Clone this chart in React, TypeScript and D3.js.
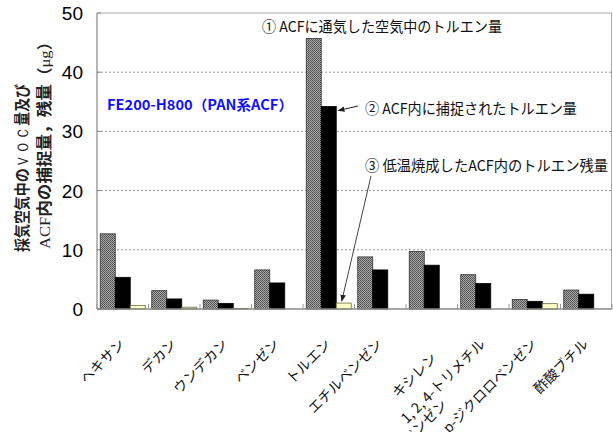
import React from "react";
import * as d3 from "d3";

// Compounds on the x axis (each entry is one or more label lines)
const categories: string[][] = [
  ["ヘキサン"],
  ["デカン"],
  ["ウンデカン"],
  ["ベンゼン"],
  ["トルエン"],
  ["エチルベンゼン"],
  ["キシレン"],
  ["1, 2, 4-トリメチル", "ベンゼン"],
  ["p-ジクロロベンゼン"],
  ["酢酸ブチル"],
];

// ① amount in air passed through the ACF (µg)
const airAmount = [12.7, 3.1, 1.5, 6.6, 45.7, 8.8, 9.7, 5.8, 1.6, 3.2];
// ② amount captured in the ACF (µg)
const captured = [5.35, 1.7, 0.95, 4.4, 34.2, 6.6, 7.4, 4.3, 1.3, 2.5];
// ③ residue in the ACF after low-temperature firing (µg)
const residue = [0.6, 0.3, 0.1, 0, 1.0, 0, 0, 0, 0.9, 0];

const yTicks = [0, 10, 20, 30, 40, 50];
const gridValues = [10, 20, 30, 40];

const W = 613;
const H = 432;
const plot = { left: 97, right: 612, top: 13, bottom: 309 };

// per-label nudges (screen px) for labels that sit off the common baseline
const labelNudge: Record<number, [number, number]> = { 6: [3, 14] };

const JP = "'Noto Sans CJK JP', 'Noto Sans', sans-serif";
const NARROW = "'Liberation Sans Narrow', 'Arial Narrow', 'Liberation Sans', sans-serif";
const SERIF = "'Liberation Serif', 'DejaVu Serif', serif";

export default function App() {
  const keys = categories.map((_, i) => String(i));
  const x = d3
    .scaleBand<string>()
    .domain(keys)
    .range([plot.left, plot.right])
    .paddingInner(0.126)
    .paddingOuter(0.063);
  const series = ["air", "cap", "res"];
  const xs = d3.scaleBand<string>().domain(series).range([0, x.bandwidth()]);
  const y = d3.scaleLinear().domain([0, 50]).range([plot.bottom, plot.top]);
  const step = x.step();
  const boundaries = d3.range(categories.length + 1).map(
    (i) => plot.left + i * step
  );

  const seriesData: { key: string; values: number[]; fill: string; stroke: string }[] = [
    { key: "air", values: airAmount, fill: "url(#dither)", stroke: "#333" },
    { key: "cap", values: captured, fill: "#000", stroke: "#000" },
    { key: "res", values: residue, fill: "#ffffc8", stroke: "#6b6b3a" },
  ];

  const tol = 4;
  const tolX = x(String(tol))!;
  const capEnd = tolX + xs("cap")! + xs.bandwidth();
  const resMid = tolX + xs("res")! + xs.bandwidth() / 2;

  return (
    <svg width={W} height={H} style={{ display: "block", position: "absolute", left: 0, top: 0, background: "#fff" }}>
      <defs>
        <pattern id="dither" width="2" height="2" patternUnits="userSpaceOnUse">
          <rect width="2" height="2" fill="#ababab" />
          <rect width="1" height="1" fill="#4a4a4a" />
          <rect x="1" y="1" width="1" height="1" fill="#5a5a5a" />
        </pattern>
        <marker id="arrowHead" viewBox="0 0 10 10" refX="9" refY="5" markerWidth="7" markerHeight="7" orient="auto">
          <path d="M0,1 L10,5 L0,9 z" fill="#222" />
        </marker>
      </defs>

      {/* gridlines */}
      {gridValues.map((v) => (
        <line key={v} x1={plot.left} x2={plot.right} y1={y(v)} y2={y(v)} stroke="#9a9a9a" strokeWidth={1} strokeDasharray="2,2" />
      ))}

      {/* frame */}
      <line x1={plot.left} x2={plot.right} y1={plot.top} y2={plot.top} stroke="#aaa" />
      <line x1={plot.right - 0.5} x2={plot.right - 0.5} y1={plot.top} y2={plot.bottom} stroke="#aaa" />
      <line x1={plot.left} x2={plot.left} y1={plot.top} y2={plot.bottom} stroke="#888" strokeWidth={1.2} />
      {yTicks.map((t) => (
        <line key={t} x1={plot.left} x2={plot.left + 4} y1={y(t)} y2={y(t)} stroke="#888" />
      ))}

      {/* bars */}
      {seriesData.map((s) =>
        s.values.map((v, i) =>
          v > 0 ? (
            <rect
              key={s.key + i}
              x={x(String(i))! + xs(s.key)!}
              y={y(v)}
              width={xs.bandwidth()}
              height={y(0) - y(v)}
              fill={s.fill}
              stroke={s.stroke}
              strokeWidth={0.8}
            />
          ) : null
        )
      )}

      {/* x axis */}
      <line x1={plot.left} x2={plot.right} y1={plot.bottom} y2={plot.bottom} stroke="#888" strokeWidth={1.6} />
      {boundaries.map((b, i) => (
        <line key={i} x1={b} x2={b} y1={plot.bottom} y2={plot.bottom - 5} stroke="#999" />
      ))}

      {/* y tick labels */}
      {yTicks.map((t) => (
        <text key={t} x={83} y={y(t) + 7} textAnchor="end" fontFamily={NARROW} fontSize={19} fill="#000">
          {t}
        </text>
      ))}

      {/* category labels */}
      {categories.map((lines, i) => {
        const [nx, ny] = labelNudge[i] ?? [0, 0];
        const cx = x(String(i))! + x.bandwidth() / 2 + 3 + nx;
        const cy = 345 + ny;
        return (
          <text
            key={i}
            transform={`translate(${cx},${cy}) rotate(-45)`}
            textAnchor="end"
            fontFamily={JP}
            fontSize={14}
            fill="#111"
          >
            {lines.map((l, j) => (
              <tspan key={j} x={j === 0 ? 0 : -70} dy={j === 0 ? 0 : 16}>
                {l}
              </tspan>
            ))}
          </text>
        );
      })}

      {/* y axis title */}
      <text
        transform="translate(28,252) rotate(-90) scale(0.9,1)"
        fontFamily={JP}
        fontWeight={700}
        fontSize={15.5}
        fill="#222"
      >
        採気空気中の<tspan fontFamily={SERIF} fontWeight={400}>ＶＯＣ</tspan>量及び
      </text>
      <text
        transform="translate(50,249) rotate(-90) scale(1.07,1)"
        fontFamily={JP}
        fontWeight={700}
        fontSize={15.5}
        fill="#222"
      >
        <tspan fontFamily={SERIF} fontWeight={400}>ACF</tspan>内の捕捉量，残量（<tspan fontFamily={SERIF} fontWeight={400}>μg</tspan>）
      </text>

      {/* sample label */}
      <text x={107} y={110} fontFamily={JP} fontWeight={700} fontSize={14} fill="#1010ff" textLength={186} lengthAdjust="spacingAndGlyphs">
        FE200-H800（PAN系ACF）
      </text>

      {/* annotations */}
      <text x={262} y={32} fontFamily={JP} fontSize={15} fill="#111" textLength={240} lengthAdjust="spacingAndGlyphs">
        ① ACFに通気した空気中のトルエン量
      </text>
      <text x={365} y={114} fontFamily={JP} fontSize={15} fill="#111" textLength={212} lengthAdjust="spacingAndGlyphs">
        ② ACF内に捕捉されたトルエン量
      </text>
      <text x={365} y={171} fontFamily={JP} fontSize={15} fill="#111" textLength={243} lengthAdjust="spacingAndGlyphs">
        ③ 低温焼成したACF内のトルエン残量
      </text>
      <line x1={358} y1={106} x2={capEnd + 2} y2={y(captured[tol]) + 4} stroke="#222" strokeWidth={1} markerEnd="url(#arrowHead)" />
      <line x1={371} y1={176} x2={resMid - 2} y2={y(residue[tol]) - 2} stroke="#444" strokeWidth={1} markerEnd="url(#arrowHead)" />
    </svg>
  );
}
